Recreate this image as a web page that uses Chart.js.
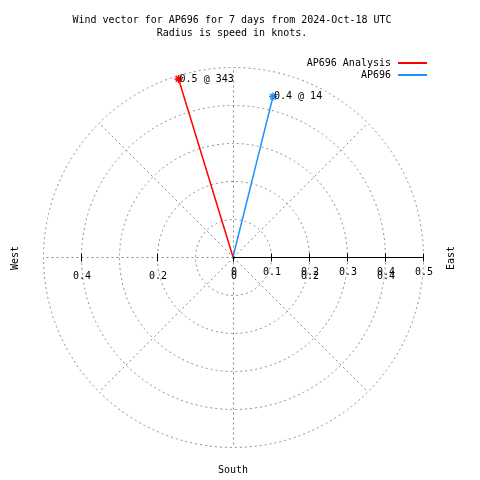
<!DOCTYPE html>
<html>
<head>
<meta charset="utf-8">
<script src="https://cdn.jsdelivr.net/npm/chart.js@4"></script>
<style>
  body { margin: 0; background: #fff; }
  canvas { display: block; }
</style>
</head>
<body>
<canvas id="wind" width="480" height="480"></canvas>
<script>
// data
const seriesNames = ['AP696 Analysis', 'AP696'];
const seriesColors = ['#ff0000', '#1e90ff'];
const directions = [343, 14];      // degrees, compass
const speeds = [0.49, 0.435];      // knots
const ringValues = [0.1, 0.2, 0.3, 0.4, 0.5];
const spokeAngles = [0, 45, 90, 135, 180, 225, 270, 315];
const radiusTicks = [0, 0.1, 0.2, 0.3, 0.4, 0.5];
const xTicks = [-0.4, -0.2, 0, 0.2, 0.4];
const titleLines = ['Wind vector for AP696 for 7 days from 2024-Oct-18 UTC', 'Radius is speed in knots.'];

const FONT = '10px "DejaVu Sans Mono", "Liberation Mono", monospace';

const toXY = (dir, spd) => {
  const a = dir * Math.PI / 180;
  return { x: spd * Math.sin(a), y: spd * Math.cos(a) };
};

const datasets = seriesNames.map((name, i) => ({
  label: name,
  data: [{ x: 0, y: 0 }, toXY(directions[i], speeds[i])],
  showLine: true,
  borderColor: seriesColors[i],
  backgroundColor: seriesColors[i],
  borderWidth: 1.5,
  pointStyle: 'star',
  pointRadius: [0, 4],
  pointBorderWidth: 1.5,
  clip: false
}));

const polarGrid = {
  id: 'polarGrid',
  beforeDatasetsDraw(chart) {
    const { ctx, scales: { x, y } } = chart;
    const cx = Math.round(x.getPixelForValue(0)) + 0.5;
    const cy = Math.round(y.getPixelForValue(0)) + 0.5;
    const len = v => x.getPixelForValue(v) - x.getPixelForValue(0);
    const outer = len(ringValues[ringValues.length - 1]);

    ctx.save();
    ctx.strokeStyle = '#8c8c8c';
    ctx.lineWidth = 1;
    ctx.setLineDash([2, 3]);
    ringValues.forEach(r => {
      ctx.beginPath();
      ctx.arc(cx, cy, len(r), 0, Math.PI * 2);
      ctx.stroke();
    });
    spokeAngles.forEach(deg => {
      const a = deg * Math.PI / 180;
      ctx.beginPath();
      ctx.moveTo(cx, cy);
      ctx.lineTo(cx + outer * Math.cos(a), cy - outer * Math.sin(a));
      ctx.stroke();
    });
    ctx.setLineDash([]);

    // radius axis, solid black
    ctx.strokeStyle = '#000';
    ctx.beginPath();
    ctx.moveTo(cx, cy);
    ctx.lineTo(cx + outer, cy);
    ctx.stroke();
    radiusTicks.concat(xTicks).forEach(v => {
      const px = Math.round(x.getPixelForValue(v)) + 0.5;
      ctx.beginPath();
      ctx.moveTo(px, cy - 4);
      ctx.lineTo(px, cy + 4);
      ctx.stroke();
    });
    ctx.restore();
  },
  afterDraw(chart) {
    const { ctx, scales: { x, y } } = chart;
    const cx = x.getPixelForValue(0);
    const cy = y.getPixelForValue(0);
    ctx.save();
    ctx.fillStyle = '#000';
    ctx.font = FONT;
    ctx.textBaseline = 'middle';

    // title
    ctx.textAlign = 'center';
    titleLines.forEach((t, i) => ctx.fillText(t, 232, 20 + i * 13));

    // tick labels
    radiusTicks.forEach(v => ctx.fillText(String(v), x.getPixelForValue(v) + 1, cy + 15));
    xTicks.forEach(v => ctx.fillText(String(Math.abs(v)), x.getPixelForValue(v) + 1, cy + 19));

    // compass labels
    ctx.fillText('South', cx, 470);
    [['West', 15, -Math.PI / 2], ['East', 451, -Math.PI / 2]].forEach(([t, px, rot]) => {
      ctx.save();
      ctx.translate(px, cy + 1);
      ctx.rotate(rot);
      ctx.fillText(t, 0, 0);
      ctx.restore();
    });

    // tip labels
    ctx.textAlign = 'left';
    chart.data.datasets.forEach((ds, i) => {
      const tip = ds.data[1];
      const px = x.getPixelForValue(tip.x);
      const py = y.getPixelForValue(tip.y);
      ctx.fillText(speeds[i].toFixed(1) + ' @ ' + directions[i], px + 1, py);
    });

    // legend
    seriesNames.forEach((name, i) => {
      const ly = 63 + i * 12;
      ctx.textAlign = 'right';
      ctx.fillStyle = '#000';
      ctx.fillText(name, 391, ly);
      ctx.fillStyle = seriesColors[i];
      ctx.fillRect(398, ly - 1, 29, 2);
    });
    ctx.restore();
  }
};

new Chart(document.getElementById('wind'), {
  type: 'scatter',
  data: { datasets },
  options: {
    responsive: false,
    animation: false,
    layout: { padding: { left: 43, right: 57, top: 67, bottom: 33 } },
    plugins: { legend: { display: false }, tooltip: { enabled: false } },
    scales: {
      x: { type: 'linear', min: -0.5, max: 0.5, display: false },
      y: { type: 'linear', min: -0.5, max: 0.5, display: false }
    }
  },
  plugins: [polarGrid]
});
</script>
</body>
</html>
